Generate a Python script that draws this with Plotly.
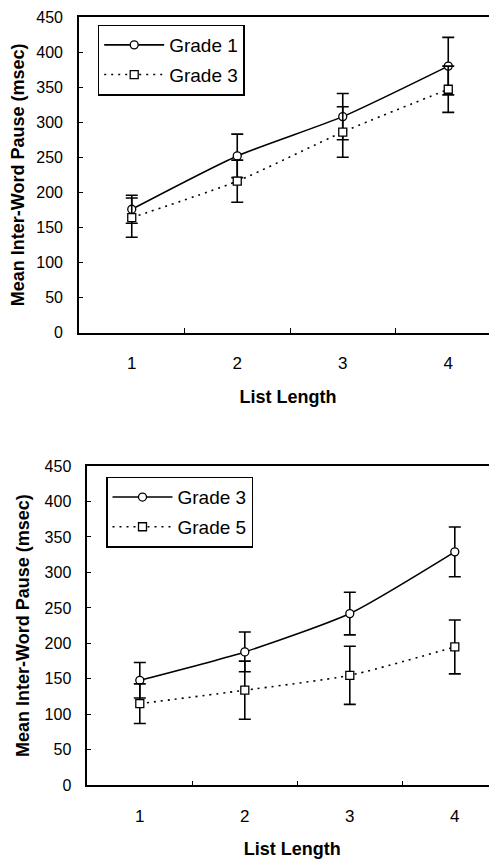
import plotly.graph_objects as go

categories = ["1", "2", "3", "4"]

# Top panel
top_g1 = [176, 252, 308, 380]
top_g1_err = [20, 31, 33, 41]
top_g3 = [164, 216, 286, 347]
top_g3_err = [28, 30, 36, 33]

# Bottom panel
bot_g3 = [148, 188, 242, 329]
bot_g3_err = [25, 28, 30, 35]
bot_g5 = [115, 134, 155, 195]
bot_g5_err = [28, 41, 41, 38]

FONT = "Liberation Sans, Arial, sans-serif"
SCREEN_W, SCREEN_H = 497, 861
OFF = 8  # default page body margin
W, H = SCREEN_W - OFF, SCREEN_H - OFF

fig = go.Figure()

def add_series(x, y, err, name, symbol, dash, xa, ya, legend, group):
    fig.add_trace(go.Scatter(
        x=x, y=y, name=name, mode="lines+markers",
        xaxis=xa, yaxis=ya, legend=legend, legendgroup=group,
        line=dict(color="black", width=1.6, dash=dash, shape="spline", smoothing=0.6),
        marker=dict(symbol=symbol, size=8, color="white", line=dict(color="black", width=1.3)),
        error_y=dict(type="data", array=err, visible=True, color="black", thickness=1.6, width=6),
    ))

add_series(categories, top_g1, top_g1_err, "Grade 1", "circle", "solid", "x", "y", "legend", "a")
add_series(categories, top_g3, top_g3_err, "Grade 3", "square", "2px,5px", "x", "y", "legend", "b")
add_series(categories, bot_g3, bot_g3_err, "Grade 3", "circle", "solid", "x2", "y2", "legend2", "c")
add_series(categories, bot_g5, bot_g5_err, "Grade 5", "square", "2px,5px", "x2", "y2", "legend2", "d")

# pixel geometry on screen
top_l, top_t, top_b = 79, 17, 332.7
bot_l, bot_t, bot_b = 87.3, 466, 785.3
top_step, bot_step = 105.5, 105.0

def xdom(l):
    return [(l - OFF) / W, 1.0]

def ydom(t, b):
    return [1 - (b - OFF) / H, 1 - (t - OFF) / H]

xcommon = dict(
    type="category", showline=True, linecolor="black", linewidth=1.6, mirror=True,
    ticks="inside", ticklen=5, tickwidth=1.3, tickcolor="black", tickson="boundaries",
    showgrid=False, zeroline=False, ticklabelstandoff=14, automargin=False,
    tickfont=dict(family=FONT, size=17, color="black"),
    title=dict(text="List Length", font=dict(family=FONT, size=18, color="black", weight="bold"), standoff=18),
)
ycommon = dict(
    range=[0, 450], dtick=50, showline=True, linecolor="black", linewidth=1.6, mirror=False,
    ticks="inside", ticklen=4, tickwidth=1.3, tickcolor="black",
    showgrid=False, zeroline=False, ticklabelstandoff=11, automargin=False,
    ticklabeloverflow="allow",
    tickfont=dict(family=FONT, size=16, color="black"),
    title=dict(text="Mean Inter-Word Pause (msec)", font=dict(family=FONT, size=18, color="black", weight="bold"), standoff=10),
)

legcommon = dict(xanchor="left", yanchor="top", bordercolor="black", borderwidth=1.5,
                 bgcolor="white", font=dict(family=FONT, size=19, color="black"),
                 tracegroupgap=2, itemwidth=60)

fig.update_layout(
    width=W, height=H, margin=dict(l=0, r=0, t=0, b=0, autoexpand=False),
    paper_bgcolor="white", plot_bgcolor="white",
    xaxis=dict(**xcommon, domain=xdom(top_l), anchor="y",
               range=[-0.5, -0.5 + (SCREEN_W - top_l) / top_step]),
    yaxis=dict(**ycommon, domain=ydom(top_t, top_b), anchor="x"),
    xaxis2=dict(**xcommon, domain=xdom(bot_l), anchor="y2",
                range=[-0.5, -0.5 + (SCREEN_W - bot_l) / bot_step]),
    yaxis2=dict(**ycommon, domain=ydom(bot_t, bot_b), anchor="x2"),
    legend=dict(**legcommon, x=(97.7 - OFF) / W, y=1 - (24.5 - OFF) / H),
    legend2=dict(**legcommon, x=(106 - OFF) / W, y=1 - (476.7 - OFF) / H),
    showlegend=True,
)

fig.write_html("out.html")
